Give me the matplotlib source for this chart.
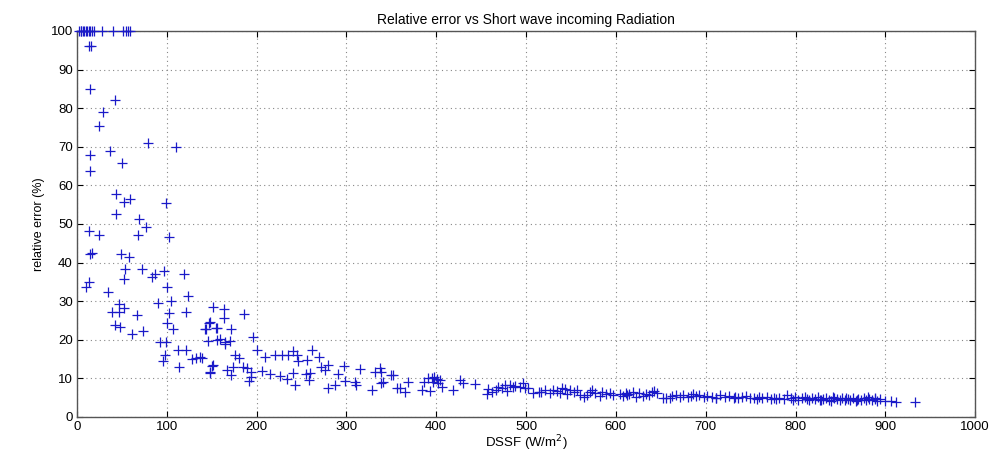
import numpy as np
import matplotlib.pyplot as plt

# ---- DSSF (W/m^2) and relative error (%) ----
dssf = [2, 4, 5, 7, 8, 10, 11, 13, 15, 17, 19, 28, 40, 51, 55, 57, 59,
        13, 16, 14.5, 42, 29, 25, 79, 110, 14, 37,
        50, 15, 44, 59, 52, 99, 43, 69, 77, 13, 24, 67.5, 102,
        15, 17, 49, 58, 53.5, 72, 97, 87, 84, 119, 52, 13.4, 9.6, 100,
        35, 124, 47, 52, 39, 47, 66.5, 90.6, 105, 102, 121, 152, 100, 42, 48,
        147, 107, 143, 156, 74, 61, 92, 99, 146, 156, 112, 121, 98, 96, 128,
        133, 139, 114, 150, 148,
        164, 164, 186, 148, 144, 155, 172, 196, 159, 165, 170, 165, 137, 176,
        180, 200, 209, 220, 228, 235, 241, 245, 262, 256, 246, 270, 152, 174,
        185, 189, 148, 167, 194, 194, 206, 215, 226, 241, 172, 192, 234, 243,
        258, 255, 260, 272, 276, 280, 297, 291, 280, 287, 298, 310, 311, 315,
        337, 332, 339, 350, 328, 339, 356,
        341, 352, 369, 360, 365, 386, 391, 395, 384, 393, 404, 406, 419, 426,
        430, 443, 456, 462, 469, 477, 482, 486, 493, 497, 499, 508, 514, 521,
        527, 530, 538, 540, 543, 549, 553, 560, 564, 568, 573, 577, 582, 584,
        597, 605, 612, 398, 401, 396, 402,
        458, 466, 473, 479, 488, 502, 517, 534, 546, 557, 571, 589, 593,
        608, 615, 619, 622, 626, 630, 634, 640, 643, 646, 652, 656, 660, 667,
        671, 675, 680, 684, 689, 693, 698, 702, 707, 712, 716, 721, 726, 731,
        736, 740, 745, 749, 754, 759, 763, 768, 773, 778, 782, 787, 791, 795,
        799, 803, 807, 811, 815, 818, 822, 825, 828, 831, 834, 837, 840, 843,
        846, 849, 852, 855, 858, 861, 864, 867, 870, 873, 876, 879, 882, 885,
        888, 891, 894, 900, 906, 912, 933,
        611, 637, 663, 686, 711, 733, 757, 776, 797, 813, 827, 842, 856, 868,
        881, 889]
rel_err = [100, 100, 100, 100, 100, 100, 100, 100, 100, 100, 100, 100, 100, 100, 100, 100, 100,
           96, 96, 85, 82, 79, 75.4, 70.9, 69.9, 67.9, 68.9,
           65.9, 63.7, 57.7, 56.6, 55.6, 55.4, 52.5, 51.4, 49.1, 48.2, 47.2, 47.2, 46.6,
           42.2, 42.4, 42.2, 41.4, 38.3, 38.4, 37.9, 37, 36.2, 37, 35.7, 35, 33.8, 33.6,
           32.5, 31.3, 29.3, 28.2, 27.3, 27.3, 26.4, 29.6, 30.1, 27, 27.3, 28.4, 24.4, 23.8, 23.4,
           24.4, 22.7, 22.7, 23, 22.4, 21.5, 19.4, 19.5, 19.8, 19.9, 17.4, 17.4, 16.1, 14.6, 15,
           15.4, 15.4, 12.9, 13.2, 11.7,
           27.9, 25.7, 26.8, 24.7, 22.8, 23, 22.8, 20.8, 20.1, 19.5, 19.8, 18.9, 15.6, 16.1,
           15.4, 17.4, 15.6, 16.1, 16.1, 16.1, 17.2, 16.1, 17.4, 14.8, 14.6, 15.5, 13.5, 13,
           13, 12.6, 11.5, 12.2, 11.6, 10.4, 12, 11.1, 10.6, 11.3, 10.9, 9.3, 9.8, 8.3,
           9.7, 11.1, 11.3, 13, 12.2, 13.5, 13.2, 11.1, 7.4, 8.3, 9.4, 9.1, 8.3, 12.4,
           12.6, 11.7, 11.7, 10.9, 7, 8.7, 7.4,
           9.1, 10.9, 9.1, 7.4, 6.6, 9.1, 10, 10, 7, 6.7, 9.6, 7.8, 7, 9.6,
           8.7, 8.5, 6, 6.6, 7.8, 8.3, 8.3, 7.8, 7.8, 8.7, 7.4, 6.1, 6.6, 7,
           6.1, 7, 6.3, 7.4, 7.2, 7, 6.6, 5.7, 5.3, 5.7, 7, 6.1, 5.4, 6.6,
           5.7, 5.9, 5.7, 10.3, 9.9, 9.0, 8.8,
           7.2, 6.9, 7.5, 6.8, 7.9, 7.6, 6.4, 6.8, 6.0, 6.9, 6.4, 5.9, 6.2,
           5.5, 6.0, 6.4, 5.2, 6.2, 5.4, 5.9, 6.5, 6.8, 6.3, 4.9, 4.8, 5.0, 5.6,
           5.3, 5.8, 5.2, 5.5, 5.4, 5.7, 5.1, 5.5, 5.3, 5.0, 5.6, 5.2, 5.4, 5.0,
           4.9, 5.2, 5.5, 5.0, 4.8, 5.1, 4.9, 5.3, 4.7, 4.6, 4.9, 4.6, 5.6, 4.8,
           5.1, 4.5, 4.9, 5.3, 4.4, 4.8, 4.6, 5.1, 4.3, 4.7, 5.0, 4.5, 4.2, 4.8,
           4.6, 4.4, 5.0, 4.3, 4.7, 4.5, 4.9, 4.2, 4.6, 4.4, 5.0, 4.3, 4.7, 4.5,
           4.9, 4.2, 4.6, 4.1, 4.2, 4.0, 3.8,
           6.1, 5.6, 5.4, 5.9, 4.8, 5.3, 4.6, 5.0, 4.5, 4.7, 4.4, 5.2, 4.8, 4.3,
           5.3, 4.7]

x_ticks = np.arange(0, 1001, 100)
y_ticks = np.arange(0, 101, 10)

plt.rcParams['font.family'] = ['Liberation Sans', 'DejaVu Sans']

fig = plt.figure(figsize=(9.92, 4.53), dpi=100)
ax = fig.add_axes([0.0776, 0.0795, 0.9054, 0.8521])
ax.plot(dssf, rel_err, '+', color='#1a1ac8', markersize=7.5, markeredgewidth=0.9,
        clip_on=False, zorder=3)
ax.set_xlim(0, 1000)
ax.set_ylim(0, 100)
ax.set_xticks(x_ticks)
ax.set_yticks(y_ticks)
ax.tick_params(direction='in', length=4, labelsize=9.5, pad=3, top=True, right=True,
               labeltop=False, labelright=False)
ax.grid(True, linestyle=(0, (1, 3)), color='#888888', linewidth=0.8)
for s in ax.spines.values():
    s.set_color('#555555')
    s.set_linewidth(1.0)
ax.set_title('Relative error vs Short wave incoming Radiation', fontsize=10, pad=5)
ax.set_xlabel('DSSF (W/m$^2$)', fontsize=9.5, labelpad=0)
ax.set_ylabel('relative error (%)', fontsize=9, labelpad=4)

fig.savefig('out.png', dpi=100)
